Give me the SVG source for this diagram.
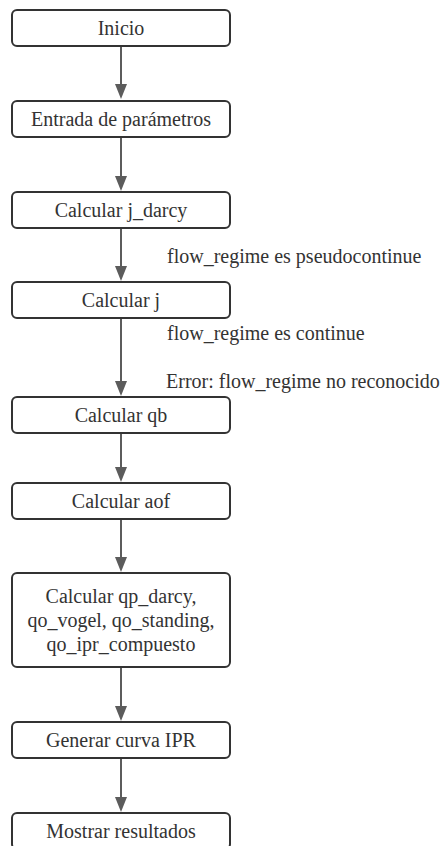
<svg xmlns="http://www.w3.org/2000/svg" width="446" height="846" viewBox="0 0 446 846">
<style>
.box{fill:#fff;stroke:#333;stroke-width:2}
.t{font-family:"Liberation Serif","Times New Roman",serif;font-size:20px;fill:#333;text-anchor:middle}
.l{font-family:"Liberation Serif","Times New Roman",serif;font-size:20px;fill:#333}
.c{stroke:#5c5c5c;stroke-width:2;fill:none}
.h{fill:#5c5c5c}
</style>
<rect width="446" height="846" fill="#fff"/>
<g id="connectors">
<line class="c" x1="121" y1="46" x2="121" y2="86"/><polygon class="h" points="115,84 127,84 121,99"/>
<line class="c" x1="121" y1="137" x2="121" y2="178"/><polygon class="h" points="115,176 127,176 121,191"/>
<line class="c" x1="121" y1="228" x2="121" y2="268"/><polygon class="h" points="115,266 127,266 121,281"/>
<line class="c" x1="121" y1="318" x2="121" y2="383"/><polygon class="h" points="115,381 127,381 121,396"/>
<line class="c" x1="121" y1="433" x2="121" y2="469"/><polygon class="h" points="115,467 127,467 121,482"/>
<line class="c" x1="121" y1="518" x2="121" y2="559"/><polygon class="h" points="115,557 127,557 121,572"/>
<line class="c" x1="121" y1="667" x2="121" y2="708"/><polygon class="h" points="115,706 127,706 121,721"/>
<line class="c" x1="121" y1="758" x2="121" y2="799"/><polygon class="h" points="115,797 127,797 121,812"/>
<text class="l" x="167" y="263">flow_regime es pseudocontinue</text>
<text class="l" x="167" y="340">flow_regime es continue</text>
<text class="l" x="166" y="388">Error: flow_regime no reconocido</text>
</g>
<g id="n1"><rect class="box" x="12" y="10" width="218" height="36" rx="5"/><text class="t" x="121" y="35">Inicio</text></g>
<g id="n2"><rect class="box" x="12" y="101" width="218" height="36" rx="5"/><text class="t" x="121" y="126">Entrada de parámetros</text></g>
<g id="n3"><rect class="box" x="12" y="192" width="218" height="36" rx="5"/><text class="t" x="121" y="217">Calcular j_darcy</text></g>
<g id="n4"><rect class="box" x="12" y="282" width="218" height="36" rx="5"/><text class="t" x="121" y="307">Calcular j</text></g>
<g id="n5"><rect class="box" x="12" y="397" width="218" height="36" rx="5"/><text class="t" x="121" y="422">Calcular qb</text></g>
<g id="n6"><rect class="box" x="12" y="483" width="218" height="36" rx="5"/><text class="t" x="121" y="508">Calcular aof</text></g>
<g id="n7"><rect class="box" x="12" y="573" width="218" height="94" rx="5"/><text class="t" x="121" y="603">Calcular qp_darcy,</text><text class="t" x="121" y="627">qo_vogel, qo_standing,</text><text class="t" x="121" y="651">qo_ipr_compuesto</text></g>
<g id="n8"><rect class="box" x="12" y="722" width="218" height="36" rx="5"/><text class="t" x="121" y="747">Generar curva IPR</text></g>
<g id="n9"><rect class="box" x="12" y="813" width="218" height="36" rx="5"/><text class="t" x="121" y="838">Mostrar resultados</text></g>
</svg>
